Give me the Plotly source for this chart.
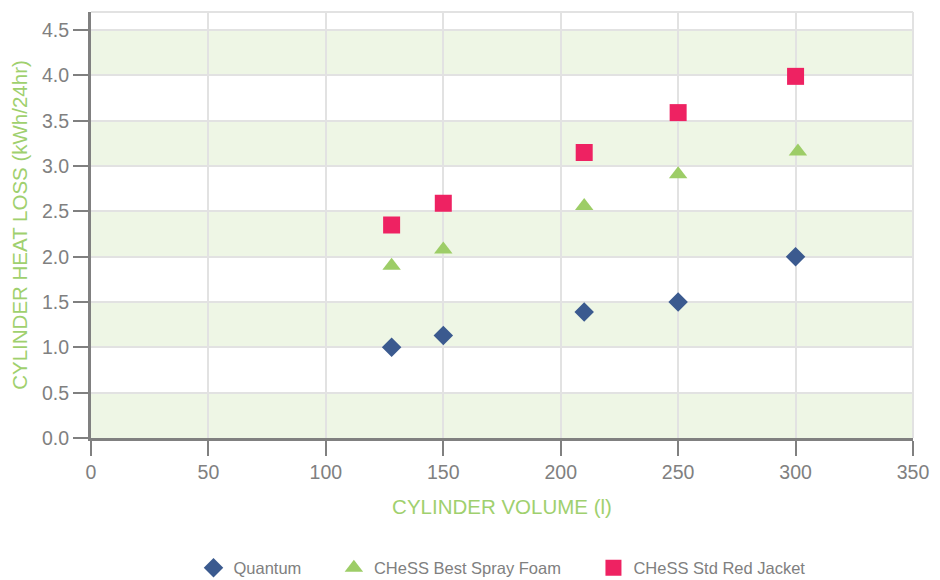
import plotly.graph_objects as go

# ---- data ----
volume = [128, 150, 210, 250, 300]
quantum = [1.0, 1.13, 1.39, 1.50, 2.0]
spray_volume = [128, 150, 210, 250, 301]
spray_foam = [1.9, 2.08, 2.56, 2.91, 3.16]
red_jacket = [2.35, 2.59, 3.15, 3.59, 3.99]
series_names = ["Quantum", "CHeSS Best Spray Foam", "CHeSS Std Red Jacket"]

x_ticks = [0, 50, 100, 150, 200, 250, 300, 350]
y_ticks = [0.0, 0.5, 1.0, 1.5, 2.0, 2.5, 3.0, 3.5, 4.0, 4.5]
x_range = [0, 350]
y_range = [0, 4.7]

GREY = "#808080"
GREEN_TXT = "#9fd06e"
BAND = "#eef6e5"
GRID = "#e2e2e2"
FONT = "Liberation Sans, Arial, sans-serif"
PAD = "\u00a0" * 6  # extra spacing between legend entries

fig = go.Figure()
fig.add_trace(go.Scatter(
    x=volume, y=quantum, mode="markers", name=series_names[0] + PAD,
    marker=dict(symbol="diamond", size=15, color="#3b5a8f"),
))
fig.add_trace(go.Scatter(
    x=spray_volume, y=spray_foam, mode="markers", name=series_names[1] + PAD,
    marker=dict(symbol="triangle-up", size=16, color="#9dcd67"),
))
fig.add_trace(go.Scatter(
    x=volume, y=red_jacket, mode="markers", name=series_names[2],
    marker=dict(symbol="square", size=17, color="#ee2262"),
))

shapes = []
# alternating background bands built from the y tick list
for i in range(0, len(y_ticks) - 1, 2):
    shapes.append(dict(type="rect", xref="paper", yref="y", x0=0, x1=1,
                       y0=y_ticks[i], y1=y_ticks[i + 1],
                       fillcolor=BAND, line=dict(width=0), layer="below"))
# light frame at top and right
shapes.append(dict(type="line", xref="paper", yref="paper", x0=0, x1=1, y0=1, y1=1,
                   line=dict(color=GRID, width=2), layer="below"))
shapes.append(dict(type="line", xref="paper", yref="paper", x0=1, x1=1, y0=0, y1=1,
                   line=dict(color=GRID, width=2), layer="below"))

fig.update_layout(
    width=940, height=580,
    margin=dict(l=83, r=35, t=4, b=149),
    paper_bgcolor="white", plot_bgcolor="white",
    font=dict(family=FONT, color=GREY, size=18),
    shapes=shapes,
    showlegend=True,
    legend=dict(orientation="h", x=0.5, xanchor="center", y=-0.302, yanchor="middle",
                font=dict(size=16.5, color=GREY), itemsizing="trace"),
    xaxis=dict(
        range=x_range, tickvals=x_ticks, ticktext=[str(v) for v in x_ticks],
        showgrid=True, gridcolor=GRID, gridwidth=2,
        showline=True, linecolor=GREY, linewidth=3,
        ticks="outside", ticklen=15, tickwidth=2, tickcolor=GREY,
        tickfont=dict(size=19.5, color=GREY),
        zeroline=False, automargin=False,
        title=dict(text="CYLINDER VOLUME (l)", font=dict(size=20.5, color=GREEN_TXT), standoff=18),
    ),
    yaxis=dict(
        range=y_range, tickvals=y_ticks, ticktext=[f"{v:.1f}" for v in y_ticks],
        showgrid=True, gridcolor=GRID, gridwidth=2,
        showline=True, linecolor=GREY, linewidth=3,
        ticks="outside", ticklen=15, tickwidth=2, tickcolor=GREY,
        tickfont=dict(size=19.5, color=GREY),
        zeroline=False, automargin=False,
        title=dict(text="CYLINDER HEAT LOSS (kWh/24hr)", font=dict(size=20.5, color=GREEN_TXT), standoff=10),
    ),
)

fig.write_html("out.html")
